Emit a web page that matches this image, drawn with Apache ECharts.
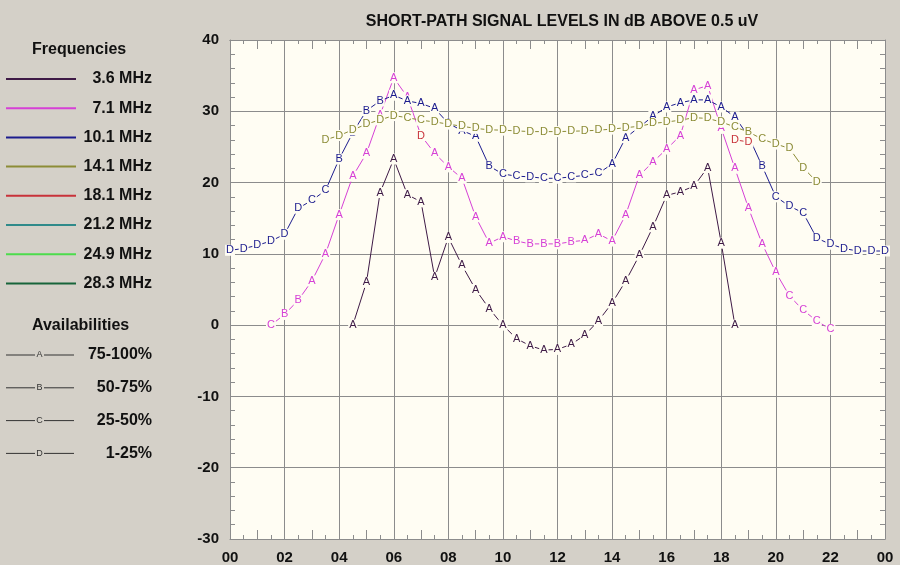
<!DOCTYPE html>
<html>
<head>
<meta charset="utf-8">
<title>Short-path signal levels</title>
<script src="https://cdn.jsdelivr.net/npm/echarts@6/dist/echarts.min.js"></script>
<style>
  html, body { margin: 0; padding: 0; background: #d4d0c8; }
  #chart { width: 900px; height: 565px; }
</style>
</head>
<body>
<div id="chart"></div>
<script>
// UTC hour of each prediction step (half-hour resolution)
const hours = [0, 0.5, 1, 1.5, 2, 2.5, 3, 3.5, 4, 4.5, 5, 5.5, 6, 6.5, 7, 7.5, 8, 8.5, 9, 9.5,
  10, 10.5, 11, 11.5, 12, 12.5, 13, 13.5, 14, 14.5, 15, 15.5, 16, 16.5, 17, 17.5, 18, 18.5, 19, 19.5,
  20, 20.5, 21, 21.5, 22, 22.5, 23, 23.5, 24];

const frequencies = ['3.6 MHz', '7.1 MHz', '10.1 MHz', '14.1 MHz', '18.1 MHz', '21.2 MHz', '24.9 MHz', '28.3 MHz'];
const freqColors = ['#3e1a46', '#d640d6', '#1c1c8e', '#8c8c36', '#c8323a', '#2f8a8a', '#4cdc4c', '#17643a'];

// signal level in dB above 0.5 uV, one entry per half hour (null = band closed)
const sig3_6 = [null, null, null, null, null, null, null, null, null, 0, 6.0, 18.6, 23.3, 18.3, 17.3, 6.7, 12.3, 8.4, 5.0, 2.3,
  0, -1.9, -2.9, -3.5, -3.4, -2.7, -1.4, 0.6, 3.1, 6.2, 9.8, 13.8, 18.2, 18.7, 19.5, 22.1, 11.5, 0, null, null,
  null, null, null, null, null, null, null, null, null];
const sig7_1 = [null, null, null, 0, 1.5, 3.5, 6.2, 10.0, 15.5, 20.9, 24.1, 29.5, 34.7, 32.0, 26.6, 24.1, 22.2, 20.6, 15.2, 11.5,
  12.4, 11.8, 11.4, 11.4, 11.4, 11.7, 11.9, 12.8, 11.8, 15.5, 21.0, 22.9, 24.7, 26.6, 33.0, 33.6, 27.6, 22.0, 16.4, 11.4,
  7.4, 4.1, 2.1, 0.6, -0.6, null, null, null, null];
const sig10_1 = [10.5, 10.75, 11.2, 11.8, 12.75, 16.4, 17.5, 18.9, 23.3, 27.0, 30.1, 31.45, 32.25, 31.45, 31.1, 30.4, 28.3, 27.3, 26.5, 22.3,
  21.2, 20.9, 20.8, 20.6, 20.6, 20.8, 21.0, 21.3, 22.6, 26.3, 27.8, 29.3, 30.6, 31.2, 31.6, 31.6, 30.6, 29.2, 26.5, 22.3,
  18.0, 16.7, 15.75, 12.2, 11.35, 10.75, 10.4, 10.4, 10.4];
const sig14_1 = [null, null, null, null, null, null, null, 26.0, 26.6, 27.4, 28.2, 28.8, 29.4, 29.1, 28.75, 28.5, 28.2, 27.9, 27.6, 27.4,
  27.35, 27.25, 27.15, 27.15, 27.15, 27.2, 27.25, 27.35, 27.5, 27.7, 27.9, 28.3, 28.5, 28.75, 29.1, 29.0, 28.5, 27.8, 27.1, 26.1,
  25.4, 24.8, 22.1, 20.1, null, null, null, null, null];
const sig18_1 = [null, null, null, null, null, null, null, null, null, null, null, null, null, null, 26.6, null, null, null, null, null,
  null, null, null, null, null, null, null, null, null, null, null, null, null, null, null, null, null, 26.0, 25.7, null,
  null, null, null, null, null, null, null, null, null];

// availability class per half hour: A 75-100%, B 50-75%, C 25-50%, D 1-25%
const avail3_6  = '.........AAAAAAAAAAAAAAAAAAAAAAAAAAAAA...........';
const avail7_1  = '...CBBAAAAAAAAAAAAAAABBBBBAAAAAAAAAAAAAAACCCC....';
const avail10_1 = 'DDDDDDCCBBBBAAAAAAABCCDCCCCCAAAAAAAAAAABCDCDDDDDD';
const avail14_1 = '.......DDDDDDCCDDDDDDDDDDDDDDDDDDDDDDCBCDDDDD.....';
const avail18_1 = '..............D......................DD..........';

const availLetters = ['A', 'B', 'C', 'D'];
const availRanges = ['75-100%', '50-75%', '25-50%', '1-25%'];

const yTicks = [-30, -20, -10, 0, 10, 20, 30, 40];

const seriesValues = [sig3_6, sig7_1, sig10_1, sig14_1, sig18_1, [], [], []];
const seriesAvail = [avail3_6, avail7_1, avail10_1, avail14_1, avail18_1, '', '', ''];

const FONT = '"Liberation Sans", Arial, sans-serif';
const PLOT_BG = '#fffdf3';
const GRID_COLOR = '#8c8c8c';

function buildPoints(vals, avail) {
  return vals.map(function (v, i) {
    return v == null ? [hours[i], '-', ''] : [hours[i], v, avail.charAt(i)];
  });
}

const series = frequencies.map(function (name, k) {
  return {
    name: name,
    type: 'line',
    xAxisIndex: 0,
    yAxisIndex: 0,
    color: freqColors[k],
    data: buildPoints(seriesValues[k], seriesAvail[k]),
    connectNulls: false,
    symbol: 'circle',
    symbolSize: 1,
    lineStyle: { width: 1, color: freqColors[k] },
    itemStyle: { color: freqColors[k] },
    label: {
      show: true,
      position: 'inside',
      formatter: function (p) { return p.value[2]; },
      color: freqColors[k],
      fontFamily: FONT,
      fontSize: 11,
      lineHeight: 11,
      backgroundColor: PLOT_BG,
      padding: [0, 1, 0, 1]
    },
    emphasis: { disabled: true },
    silent: true,
    animation: false
  };
});

// availability key drawn under the frequency legend
const availGraphics = [{
  type: 'text',
  left: 32, top: 318,
  style: { text: 'Availabilities', font: 'bold 16px ' + FONT, fill: '#111' }
}];
availLetters.forEach(function (letter, i) {
  const y = 355 + i * 32.8;
  availGraphics.push(
    { type: 'line', shape: { x1: 6, y1: y, x2: 35, y2: y }, style: { stroke: '#333', lineWidth: 1 } },
    { type: 'line', shape: { x1: 44, y1: y, x2: 74, y2: y }, style: { stroke: '#333', lineWidth: 1 } },
    { type: 'text', x: 39.5, y: y, style: { text: letter, font: '9px ' + FONT, fill: '#333', align: 'center', verticalAlign: 'middle' } },
    { type: 'text', x: 152, y: y, style: { text: availRanges[i], font: 'bold 16px ' + FONT, fill: '#111', align: 'right', verticalAlign: 'middle' } }
  );
});
availGraphics.push({
  type: 'text',
  left: 32, top: 42,
  style: { text: 'Frequencies', font: 'bold 16px ' + FONT, fill: '#111' }
});

const pad2 = function (v) { const h = v % 24; return (h < 10 ? '0' : '') + h; };

// tick-only axis helpers: short inside ticks at a given step, kept on the plot border
function xTickAxis(position, step, len) {
  return {
    type: 'value', position: position, min: 0, max: 24, interval: step,
    axisLine: { show: position === 'top', onZero: false, lineStyle: { color: GRID_COLOR, width: 1 } },
    axisTick: { show: true, inside: true, length: len, lineStyle: { color: GRID_COLOR } },
    splitLine: { show: false },
    axisLabel: { show: false }
  };
}
function yTickAxis(position, step, len) {
  return {
    type: 'value', position: position, min: yTicks[0], max: yTicks[yTicks.length - 1], interval: step,
    axisLine: { show: position === 'right', onZero: false, lineStyle: { color: GRID_COLOR, width: 1 } },
    axisTick: { show: true, inside: true, length: len, lineStyle: { color: GRID_COLOR } },
    splitLine: { show: false },
    axisLabel: { show: false }
  };
}

const option = {
  backgroundColor: '#d4d0c8',
  animation: false,
  title: {
    text: 'SHORT-PATH SIGNAL LEVELS IN dB ABOVE 0.5 uV',
    left: 557,
    textAlign: 'center',
    top: 9,
    textStyle: { fontFamily: FONT, fontSize: 16, fontWeight: 'bold', color: '#111' }
  },
  legend: {
    data: frequencies,
    orient: 'vertical',
    left: 6,
    top: 70,
    padding: 0,
    icon: 'rect',
    itemWidth: 70,
    itemHeight: 2,
    itemGap: 11.2,
    selectedMode: false,
    formatter: function (name) { return '{n|' + name + '}'; },
    textStyle: {
      rich: {
        n: { width: 71, height: 18, align: 'right', fontFamily: FONT, fontSize: 16, fontWeight: 'bold', color: '#111', lineHeight: 18 }
      }
    }
  },
  graphic: availGraphics,
  grid: {
    left: 230, top: 40, width: 655, height: 499,
    show: true, backgroundColor: PLOT_BG, borderWidth: 0
  },
  xAxis: [
    {
      type: 'value', position: 'bottom', min: 0, max: 24, interval: 2,
      axisLine: { show: true, onZero: false, lineStyle: { color: GRID_COLOR, width: 1 } },
      axisTick: { show: false },
      splitLine: { show: true, lineStyle: { color: GRID_COLOR, width: 1 } },
      axisLabel: { formatter: pad2, margin: 11, fontFamily: FONT, fontSize: 15, fontWeight: 'bold', color: '#111' }
    },
    xTickAxis('bottom', 0.5, 4),
    xTickAxis('bottom', 1, 9),
    xTickAxis('top', 0.5, 4),
    xTickAxis('top', 1, 9)
  ],
  yAxis: [
    {
      type: 'value', position: 'left', min: yTicks[0], max: yTicks[yTicks.length - 1], interval: 10,
      axisLine: { show: true, onZero: false, lineStyle: { color: GRID_COLOR, width: 1 } },
      axisTick: { show: false },
      splitLine: { show: true, lineStyle: { color: GRID_COLOR, width: 1 } },
      axisLabel: { margin: 11, fontFamily: FONT, fontSize: 15, fontWeight: 'bold', color: '#111' }
    },
    yTickAxis('left', 2, 5),
    yTickAxis('right', 2, 5)
  ],
  series: series
};

const chart = echarts.init(document.getElementById('chart'), null, { renderer: 'canvas' });
chart.setOption(option);
</script>
</body>
</html>
